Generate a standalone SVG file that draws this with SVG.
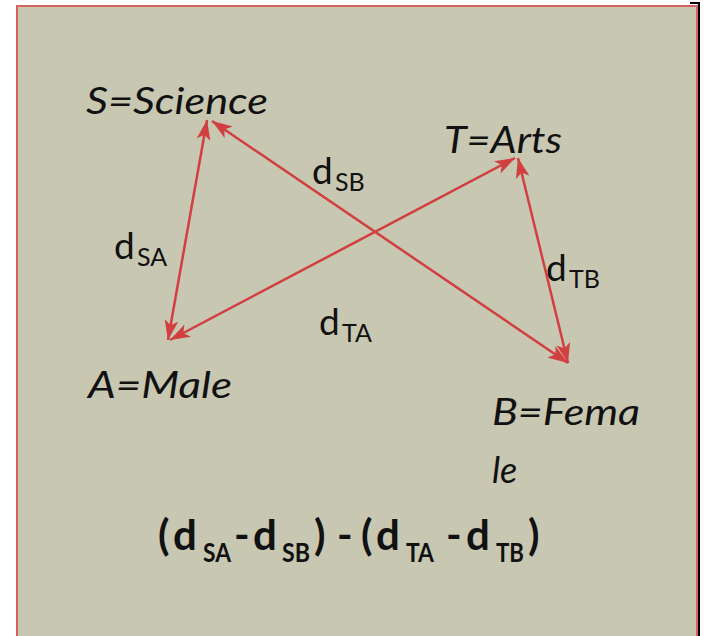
<svg xmlns="http://www.w3.org/2000/svg" width="704" height="636" viewBox="0 0 704 636">
<style>
.lbl{font-family:"Lato","Open Sans","Liberation Sans",sans-serif;font-style:italic;font-size:36px;fill:#111}
.d{font-family:"Lato","Open Sans","Liberation Sans",sans-serif;font-size:37px;fill:#111}
.s{font-family:"Lato","Open Sans","Liberation Sans",sans-serif;font-size:25px;fill:#111}
.fb{font-family:"Lato","Open Sans","Liberation Sans",sans-serif;font-weight:bold;font-size:42px;fill:#111}
.fs{font-family:"Lato","Open Sans","Liberation Sans",sans-serif;font-weight:bold;font-size:27px;fill:#111}
.edge{stroke:#D23F40;stroke-width:2.5;fill:none;marker-start:url(#ah);marker-end:url(#ah)}
</style>
<defs>
<marker id="ah" markerUnits="userSpaceOnUse" viewBox="0 0 20 14" refX="20" refY="7" markerWidth="20" markerHeight="14" orient="auto-start-reverse">
<path d="M0,0 L20,7 L0,14 L5,7 Z" fill="#D23F40"/>
</marker>
</defs>
<rect x="0" y="0" width="704" height="636" fill="#ffffff"/>
<rect x="17" y="6" width="680" height="640" fill="#C8C7B2" stroke="#D46262" stroke-width="2"/>
<path d="M690,3 H699 V636" fill="none" stroke="#000" stroke-width="2"/>
<g id="connectors">
<line class="edge" x1="207" y1="120" x2="168" y2="340"/>
<line class="edge" x1="212" y1="121" x2="568" y2="363"/>
<line class="edge" x1="515" y1="158" x2="170" y2="340"/>
<line class="edge" x1="518" y1="158" x2="568" y2="363"/>
</g>
<g id="nodeS"><text class="lbl" x="86" y="114" textLength="182" lengthAdjust="spacingAndGlyphs">S=Science</text></g>
<g id="nodeT"><text class="lbl" x="444" y="153" textLength="118" lengthAdjust="spacingAndGlyphs">T=Arts</text></g>
<g id="nodeA"><text class="lbl" x="88" y="398" textLength="144" lengthAdjust="spacingAndGlyphs">A=Male</text></g>
<g id="nodeB"><text class="lbl" x="492" y="425" textLength="148" lengthAdjust="spacingAndGlyphs">B=Fema</text><text class="lbl" x="492" y="483">le</text></g>
<g id="labels">
<text class="d" x="114" y="259">d</text><text class="s" x="137" y="266">SA</text>
<text class="d" x="312" y="184">d</text><text class="s" x="335" y="191">SB</text>
<text class="d" x="546" y="281">d</text><text class="s" x="569" y="288">TB</text>
<text class="d" x="319" y="335">d</text><text class="s" x="342" y="342">TA</text>
</g>
<g id="formula">
<text class="fb" y="550"><tspan x="158">(</tspan><tspan x="173">d</tspan></text><text class="fs" x="203" y="562" textLength="28" lengthAdjust="spacingAndGlyphs">SA</text>
<text class="fb" y="550"><tspan x="234">-</tspan><tspan x="253">d</tspan></text><text class="fs" x="282" y="562" textLength="28" lengthAdjust="spacingAndGlyphs">SB</text>
<text class="fb" y="550"><tspan x="314">)</tspan><tspan x="337">-</tspan><tspan x="361">(</tspan><tspan x="376">d</tspan></text><text class="fs" x="406" y="562" textLength="28" lengthAdjust="spacingAndGlyphs">TA</text>
<text class="fb" y="550"><tspan x="446">-</tspan><tspan x="466">d</tspan></text><text class="fs" x="496" y="562" textLength="28" lengthAdjust="spacingAndGlyphs">TB</text>
<text class="fb" x="528" y="550">)</text>
</g>
</svg>
